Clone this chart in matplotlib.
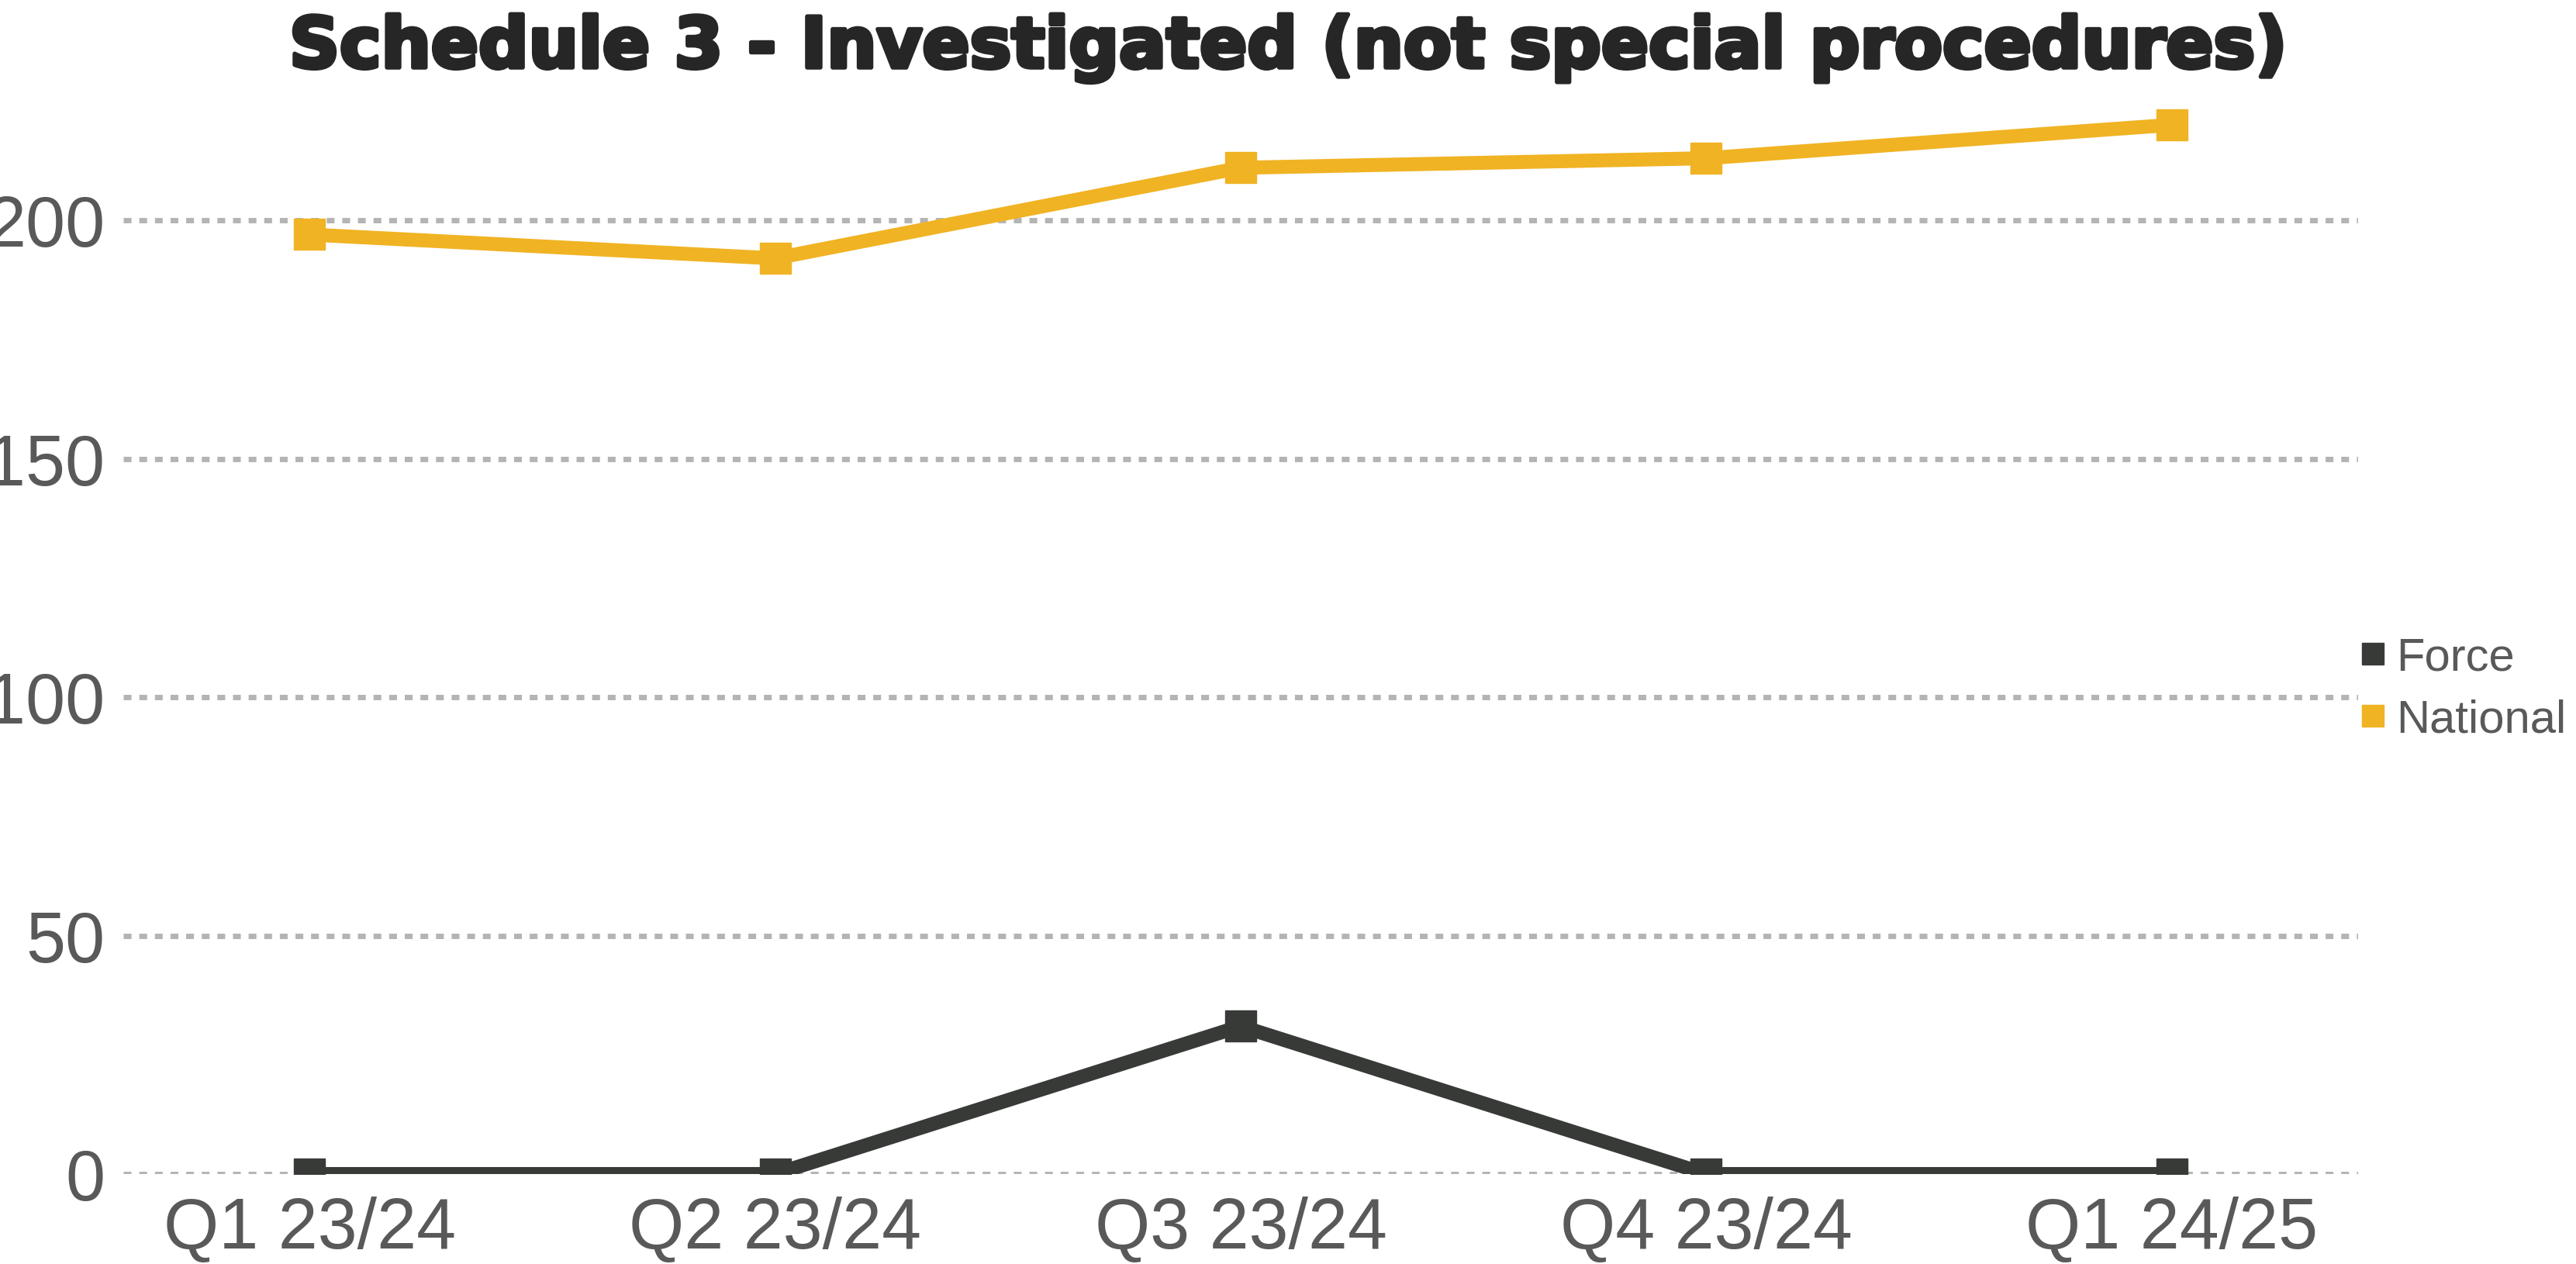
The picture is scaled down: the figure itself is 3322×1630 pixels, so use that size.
import matplotlib
matplotlib.use("Agg")
import matplotlib.pyplot as plt
from matplotlib.lines import Line2D
import matplotlib.patheffects as pe

categories = ["Q1 23/24", "Q2 23/24", "Q3 23/24", "Q4 23/24", "Q1 24/25"]
force = [0, 0, 31, 0, 0]
national = [197, 192, 211, 213, 220]
yticks = [0, 50, 100, 150, 200]

FORCE_C = "#383A38"
NAT_C = "#F0B323"
GRID_C = "#B4B4B4"
TXT_C = "#595959"

plt.rcParams["font.family"] = ["Liberation Sans", "DejaVu Sans"]

W, H = 3323, 1631
fig = plt.figure(figsize=(W / 100, H / 100), dpi=100)
ax_left, ax_right = 159 / W, 3041 / W
ax_bottom = (H - 1515) / H
ymax = 230
px_per_unit = 6.15
ax_h = ymax * px_per_unit / H
ax = fig.add_axes([ax_left, ax_bottom, ax_right - ax_left, ax_h])

x = list(range(len(categories)))
lw = 13
ms = 29
ax.plot(x, national, color=NAT_C, lw=lw, marker="s", ms=ms, solid_joinstyle="miter", zorder=4)
ax.plot(x, force, color=FORCE_C, lw=lw, marker="s", ms=ms, solid_joinstyle="miter", zorder=4)

ax.set_xlim(-0.4, len(categories) - 1 + 0.4)
ax.set_ylim(0, ymax)
ax.set_yticks(yticks)
ax.set_xticks(x)
ax.set_xticklabels(categories)
for yv in yticks:
    ax.axhline(yv, color=GRID_C, lw=5, linestyle=(0, (1.45, 1.45)), zorder=1)
for s in ax.spines.values():
    s.set_visible(False)
ax.tick_params(axis="both", length=0, labelsize=66, colors=TXT_C)
ax.tick_params(axis="x", pad=20)
ax.tick_params(axis="y", pad=17)

handles = [Line2D([], [], color=FORCE_C, marker="s", linestyle="None", ms=19.5),
           Line2D([], [], color=NAT_C, marker="s", linestyle="None", ms=19.5)]
ax.legend(handles, ["Force", "National"], loc="center left",
          bbox_to_anchor=(3045 / W, 1 - 889 / H), bbox_transform=fig.transFigure,
          frameon=False, fontsize=43, labelcolor=TXT_C, handlelength=0.5,
          handletextpad=0.25, borderaxespad=0, borderpad=0, labelspacing=0.42)

fig.text(1661 / W, 1 - 88 / H, "Schedule 3 - Investigated (not special procedures)",
         ha="center", va="baseline", fontsize=65, fontweight="bold",
         family="DejaVu Sans", color="#262626",
         path_effects=[pe.withStroke(linewidth=4, foreground="#262626")])

fig.savefig("out.png", dpi=100, facecolor="white")
